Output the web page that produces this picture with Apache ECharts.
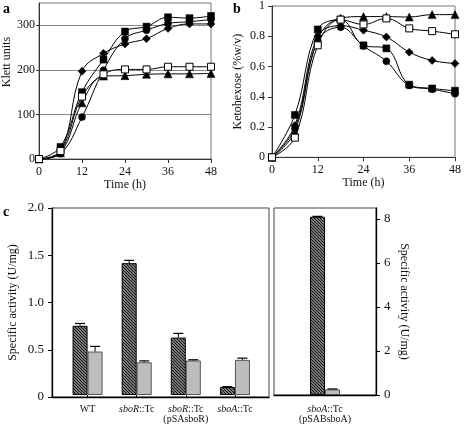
<!DOCTYPE html>
<html><head><meta charset="utf-8">
<script src="https://cdn.jsdelivr.net/npm/echarts@6/dist/echarts.min.js"></script>
<style>html,body{margin:0;padding:0;background:#fff}#c{width:464px;height:424px}</style>
</head><body><div id="c"></div>
<script>
// ---------- data ----------
const time = [0, 6, 12, 18, 24, 30, 36, 42, 48];
// panel a: Klett units
const aFilledSquare = [0, 27, 150, 223, 286, 297, 318, 316, 321];
const aFilledCircle = [0, 12, 94, 199, 270, 289, 304, 308, 313];
const aDiamond      = [0, 16, 197, 237, 258, 270, 293, 303, 303];
const aOpenSquare   = [0, 18, 140, 190, 201, 201, 207, 207, 207];
const aTriangle     = [0, 14, 126, 186, 187, 190, 191, 191, 192];
// panel b: Ketohexose (%w/v)
const bFilledSquare = [0, 0.28, 0.845, 0.91, 0.74, 0.72, 0.48, 0.455, 0.44];
const bFilledCircle = [0, 0.19, 0.77, 0.86, 0.735, 0.635, 0.475, 0.45, 0.42];
const bDiamond      = [0, 0.21, 0.80, 0.87, 0.84, 0.795, 0.695, 0.64, 0.62];
const bOpenSquare   = [0, 0.13, 0.74, 0.91, 0.878, 0.918, 0.852, 0.834, 0.813];
const bTriangle     = [0, 0.17, 0.78, 0.92, 0.93, 0.93, 0.927, 0.943, 0.943];
// panel c: specific activity (U/mg)
const cCategories = ['WT', 'sboR::Tc', 'sboR::Tc\n(pSAsboR)', 'sboA::Tc'];
const cHatched    = [0.74, 1.41, 0.614, 0.085];
const cHatchedErr = [0.025, 0.03, 0.045, 0.004];
const cGray       = [0.465, 0.35, 0.369, 0.376];
const cGrayErr    = [0.055, 0.015, 0.008, 0.018];
const cRightCategories = ['sboA::Tc\n(pSABsboA)'];
const cRightHatched    = [8.1];
const cRightHatchedErr = [0.02];
const cRightGray       = [0.255];
const cRightGrayErr    = [0.02];
const aTicks = [0, 100, 200, 300];
const bTicks = [0, 0.2, 0.4, 0.6, 0.8, 1];
const cLeftTicks = [0, 0.5, 1.0, 1.5, 2.0];
const cRightTicks = [0, 2, 4, 6, 8];

// ---------- styles ----------
const FONT = "'Liberation Serif','Times New Roman',serif";
const AX = '#333', FRAME = '#777';
function hatchCanvas() {
  const c = document.createElement('canvas'); c.width = 3; c.height = 3;
  const g = c.getContext('2d');
  g.fillStyle = '#d0d0d0'; g.fillRect(0, 0, 3, 3);
  g.strokeStyle = '#111'; g.lineWidth = 1.3;
  g.beginPath();
  g.moveTo(-1, -1); g.lineTo(4, 4);
  g.moveTo(-1, 2); g.lineTo(1, 4);
  g.moveTo(2, -1); g.lineTo(4, 1);
  g.stroke();
  return c;
}
const hatchFill = { image: hatchCanvas(), repeat: 'repeat' };

const markerSpecs = [
  { key: 'Square', symbol: 'rect', size: 7, fill: '#000' },
  { key: 'Circle', symbol: 'circle', size: 7, fill: '#000' },
  { key: 'Diamond', symbol: 'diamond', size: 8, fill: '#000' },
  { key: 'OpenSquare', symbol: 'rect', size: 7, fill: '#fff' },
  { key: 'Triangle', symbol: 'triangle', size: 8, fill: '#000' }
];
const aData = [aFilledSquare, aFilledCircle, aDiamond, aOpenSquare, aTriangle];
const bData = [bFilledSquare, bFilledCircle, bDiamond, bOpenSquare, bTriangle];

function lineSeries(arr, spec, idx) {
  return {
    type: 'line', xAxisIndex: idx, yAxisIndex: idx, smooth: 0.4,
    symbol: spec.symbol, symbolSize: spec.size,
    data: time.map((t, i) => [t, arr[i]]),
    lineStyle: { color: '#000', width: 1 },
    itemStyle: { color: spec.fill, borderColor: '#000', borderWidth: spec.fill === '#fff' ? 1 : 0.5 },
    z: spec.fill === '#fff' ? 4 : 3, animation: false
  };
}

function errSeries(vals, errs, xi, yi, off) {
  return {
    type: 'custom', xAxisIndex: xi, yAxisIndex: yi, z: 5, animation: false,
    data: vals.map((v, i) => [i, v, errs[i]]),
    renderItem: function (params, api) {
      const x = api.coord([api.value(0), 0])[0] + off;
      const y0 = api.coord([api.value(0), api.value(1)])[1];
      const y1 = api.coord([api.value(0), api.value(1) + api.value(2)])[1];
      return { type: 'group', children: [
        { type: 'line', shape: { x1: x, y1: y0, x2: x, y2: y1 }, style: { stroke: '#000', lineWidth: 1 } },
        { type: 'line', shape: { x1: x - 5, y1: y1, x2: x + 5, y2: y1 }, style: { stroke: '#000', lineWidth: 1.2 } }
      ]};
    }
  };
}

function catFormatter(v) {
  return v.split('\n').map(line => line.replace(/^(sbo[RA])(::Tc)$/, '{i|$1}$2')).join('\n');
}
const catLabel = {
  interval: 0, hideOverlap: false,
  fontFamily: FONT, fontSize: 10, color: '#111', lineHeight: 10, margin: 9,
  formatter: catFormatter,
  rich: { i: { fontStyle: 'italic', fontFamily: FONT, fontSize: 10, color: '#111', lineHeight: 10 } }
};

const tickLabel = { fontFamily: FONT, fontSize: 12, color: '#111' };
const nameStyle = { fontFamily: FONT, fontSize: 12, color: '#111' };

const option = {
  backgroundColor: '#fff',
  animation: false,
  title: [
    { text: 'a', left: -2, top: -3, textStyle: { fontFamily: FONT, fontSize: 14, fontWeight: 'bold', color: '#000' } },
    { text: 'b', left: 228, top: -3, textStyle: { fontFamily: FONT, fontSize: 14, fontWeight: 'bold', color: '#000' } },
    { text: 'c', left: -2, top: 200, textStyle: { fontFamily: FONT, fontSize: 14, fontWeight: 'bold', color: '#000' } }
  ],
  grid: [
    { left: 36, top: 3, width: 175, height: 156, show: true, borderColor: FRAME, borderWidth: 1, backgroundColor: 'transparent' },
    { left: 272, top: 3.3, width: 188, height: 154, show: true, borderColor: FRAME, borderWidth: 1, backgroundColor: 'transparent' },
    { left: 52, top: 208, width: 217, height: 189, show: true, borderColor: '#444', borderWidth: 1, backgroundColor: 'transparent' },
    { left: 63, top: 208, width: 196.5, height: 189 },
    { left: 274, top: 208, width: 102, height: 189, show: true, borderColor: '#444', borderWidth: 1, backgroundColor: 'transparent' }
  ],
  xAxis: [
    { gridIndex: 0, type: 'value', min: 0, max: 48, interval: 12,
      axisLine: { lineStyle: { color: AX } }, axisTick: { length: 4, lineStyle: { color: AX } },
      axisLabel: Object.assign({ margin: 7 }, tickLabel), splitLine: { show: false },
      name: 'Time (h)', nameLocation: 'middle', nameGap: 20, nameTextStyle: nameStyle },
    { gridIndex: 1, type: 'value', min: 0, max: 48, interval: 12,
      axisLine: { lineStyle: { color: AX } }, axisTick: { length: 4, lineStyle: { color: AX } },
      axisLabel: Object.assign({ margin: 7 }, tickLabel), splitLine: { show: false },
      name: 'Time (h)', nameLocation: 'middle', nameGap: 20, nameTextStyle: nameStyle },
    { gridIndex: 2, type: 'value', min: 0, max: 1,
      axisLine: { lineStyle: { color: '#000', width: 1.3 } }, axisTick: { show: false },
      axisLabel: { show: false }, splitLine: { show: false } },
    { gridIndex: 3, type: 'category', data: cCategories,
      axisLine: { show: false }, axisTick: { show: true, alignWithLabel: true, interval: 0, length: 3, lineStyle: { color: '#000' } },
      axisLabel: catLabel },
    { gridIndex: 4, type: 'category', data: cRightCategories,
      axisLine: { lineStyle: { color: '#000', width: 1.3 } }, axisTick: { show: false },
      axisLabel: catLabel }
  ],
  yAxis: [
    { gridIndex: 0, type: 'value', min: 0, max: 350, interval: 100,
      axisLine: { show: true, lineStyle: { color: AX } },
      axisTick: { show: true, length: 3, customValues: aTicks, lineStyle: { color: AX } },
      axisLabel: Object.assign({ margin: 4, customValues: aTicks }, tickLabel),
      splitLine: { show: true, lineStyle: { color: '#888', width: 1 } },
      name: 'Klett units', nameLocation: 'middle', nameGap: 26, nameTextStyle: Object.assign({ padding: [0, 0, 0, 38] }, nameStyle) },
    { gridIndex: 1, type: 'value', min: 0, max: 1, interval: 0.2,
      axisLine: { show: true, lineStyle: { color: AX } },
      axisTick: { show: true, length: 4, lineStyle: { color: AX } },
      axisLabel: Object.assign({ margin: 7, customValues: bTicks }, tickLabel),
      splitLine: { show: false },
      name: 'Ketohexose (%w/v)', nameLocation: 'middle', nameGap: 28, nameTextStyle: nameStyle },
    { gridIndex: 2, type: 'value', min: 0, max: 2, interval: 0.5,
      axisLine: { show: true, lineStyle: { color: '#000', width: 1.3 } },
      axisTick: { show: true, length: 4, lineStyle: { color: '#000' } },
      axisLabel: { fontFamily: FONT, fontSize: 13, color: '#111', margin: 8, customValues: cLeftTicks,
        formatter: v => v === 0 ? '0' : v.toFixed(1) },
      splitLine: { show: false },
      name: 'Specific activity (U/mg)', nameLocation: 'middle', nameGap: 33, nameTextStyle: nameStyle },
    { gridIndex: 3, type: 'value', min: 0, max: 2, show: false },
    { gridIndex: 4, type: 'value', position: 'right', min: 0, max: 8.5, interval: 2,
      axisLine: { show: true, lineStyle: { color: '#000', width: 1.3 } },
      axisTick: { show: true, length: 4, customValues: cRightTicks, lineStyle: { color: '#000' } },
      axisLabel: { fontFamily: FONT, fontSize: 13, color: '#111', margin: 8, customValues: cRightTicks },
      splitLine: { show: false },
      name: 'Specific activity (U/mg)', nameLocation: 'middle', nameGap: 22, nameRotate: -90, nameTextStyle: nameStyle }
  ],
  series: [
    ...aData.map((d, k) => lineSeries(d, markerSpecs[k], 0)),
    ...bData.map((d, k) => lineSeries(d, markerSpecs[k], 1)),
    { type: 'bar', xAxisIndex: 3, yAxisIndex: 3, data: cHatched, barWidth: 15, barGap: '0%',
      itemStyle: { color: hatchFill, borderColor: '#000', borderWidth: 1 } },
    { type: 'bar', xAxisIndex: 3, yAxisIndex: 3, data: cGray, barWidth: 15, barGap: '0%',
      itemStyle: { color: '#bdbdbd', borderColor: '#555', borderWidth: 1 } },
    errSeries(cHatched, cHatchedErr, 3, 3, -7.5),
    errSeries(cGray, cGrayErr, 3, 3, 7.5),
    { type: 'bar', xAxisIndex: 4, yAxisIndex: 4, data: cRightHatched, barWidth: 15, barGap: '0%',
      itemStyle: { color: hatchFill, borderColor: '#000', borderWidth: 1 } },
    { type: 'bar', xAxisIndex: 4, yAxisIndex: 4, data: cRightGray, barWidth: 15, barGap: '0%',
      itemStyle: { color: '#bdbdbd', borderColor: '#555', borderWidth: 1 } },
    errSeries(cRightHatched, cRightHatchedErr, 4, 4, -7.5),
    errSeries(cRightGray, cRightGrayErr, 4, 4, 7.5)
  ]
};
const chart = echarts.init(document.getElementById('c'), null, { renderer: 'canvas' });
chart.setOption(option);
</script>
</body></html>
